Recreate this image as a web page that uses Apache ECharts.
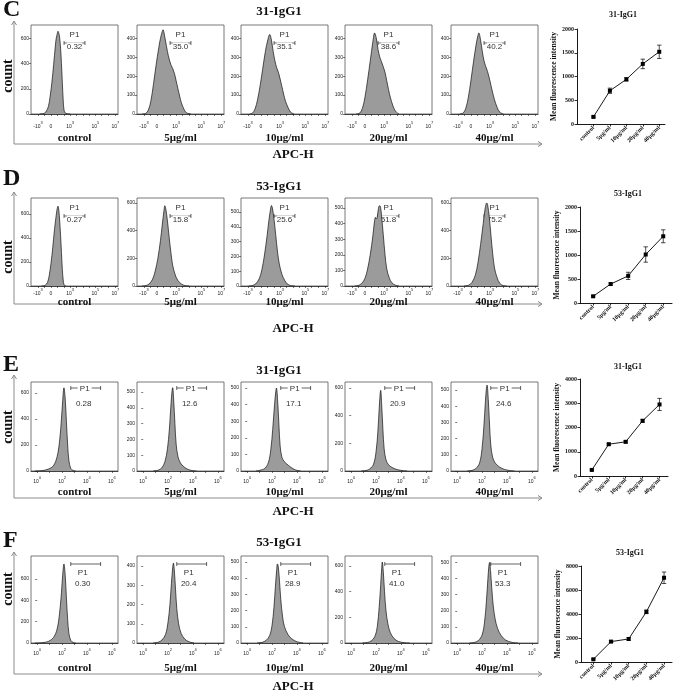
<!DOCTYPE html>
<html><head><meta charset="utf-8">
<script src="https://cdn.jsdelivr.net/npm/echarts@6/dist/echarts.min.js"></script>
<style>html,body{margin:0;padding:0;background:#fff}#c{width:677px;height:693px}</style>
</head><body><div id="c"></div>
<script>
// ---------------- DATA ----------------
const rowLetters = ['C','D','E','F'];
const rowTitles = ['31-IgG1','53-IgG1','31-IgG1','53-IgG1'];
const panelNames = ['control','5μg/ml','10μg/ml','20μg/ml','40μg/ml'];
const lineCategories = ['control','5μg/ml','10μg/ml','20μg/ml','40μg/ml'];

// P1 gate percentages
const p1C = ['0.32','35.0','35.1','38.6','40.2'];
const p1D = ['0.27','15.8','25.6','51.8','75.2'];
const p1E = ['0.28','12.6','17.1','20.9','24.6'];
const p1F = ['0.30','20.4','28.9','41.0','53.3'];

// x tick labels: rows C/D biexponential display scale (0-100 display units), rows E/F log10 scale
const biexTickPos = [8, 23, 45, 74, 97];
const biexTickBase = ['-10','0','10','10','10'];
const biexTickExp = ['3','','3','5','7'];
const biexMinorTicks = [8, 15, 23, 30, 38, 45, 52, 60, 67, 74, 81, 89, 97];
const logTickPos = [0, 2, 4, 6];
const logTickBase = ['10','10','10','10'];
const logTickExp = ['0','2','4','6'];
const logMinorTicks = [0, 1, 2, 3, 4, 5, 6];

// gates [start, end] in x units
const gateCD = [38, 62];
const gateEF = [2.7, 5.1];

// histogram y ticks / y max per panel
const yTicksC = [[0,200,400,600],[0,100,200,300,400],[0,100,200,300,400],[0,100,200,300,400],[0,100,200,300,400]];
const yMaxC = [705, 470, 470, 470, 470];
const yTicksD = [[0,200,400,600],[0,200,400,600],[0,100,200,300,400,500],[0,100,200,300,400,500],[0,200,400,600]];
const yMaxD = [733, 636, 595, 564, 636];
const yTicksE = [[0,200,400,600],[0,100,200,300,400,500],[0,100,200,300,400,500],[0,200,400,600],[0,100,200,300,400,500]];
const yMaxE = [685, 563, 536, 643, 549];
const yTicksF = [[0,200,400,600],[0,100,200,300,400],[0,100,200,300,400,500],[0,200,400,600],[0,100,200,300,400,500]];
const yMaxF = [815, 452, 537, 678, 540];

// histograms [x, count]
const histC = [
 [[10,0],[14,3],[17,15],[20,60],[22,140],[24,250],[26,390],[28,540],[29,600],[30,630],[31,655],[32,640],[33,600],[34,520],[35,400],[36,250],[37,110],[38,30],[40,5],[45,0]],
 [[6,0],[10,3],[13,20],[16,70],[19,160],[22,260],[25,350],[27,400],[29,435],[30,445],[31,430],[33,380],[35,330],[37,290],[39,260],[41,240],[43,215],[45,175],[47,135],[49,95],[51,60],[54,25],[57,6],[62,0]],
 [[10,0],[13,4],[16,25],[19,75],[22,150],[25,240],[28,330],[31,395],[33,420],[35,390],[37,330],[39,280],[41,245],[43,220],[45,185],[47,145],[49,105],[51,70],[54,35],[57,10],[61,0]],
 [[13,0],[17,5],[20,30],[23,90],[26,180],[29,280],[32,380],[34,428],[36,400],[38,340],[40,300],[42,275],[44,250],[46,220],[48,175],[50,130],[52,90],[55,45],[58,15],[62,0]],
 [[10,0],[14,5],[17,30],[20,90],[23,180],[26,280],[29,370],[31,415],[32,428],[34,390],[36,330],[38,280],[40,250],[42,225],[44,190],[46,150],[48,110],[50,75],[53,35],[56,10],[60,0]]
];
const histD = [
 [[12,0],[16,5],[19,30],[21,90],[23,190],[25,320],[27,470],[29,590],[30,640],[31,665],[32,630],[33,540],[34,420],[35,280],[36,140],[37,50],[38,10],[40,0]],
 [[6,0],[10,3],[14,15],[18,50],[21,110],[24,200],[27,330],[29,440],[31,545],[32,580],[33,560],[35,470],[37,350],[39,240],[41,150],[44,80],[47,40],[51,15],[55,3],[60,0]],
 [[9,0],[13,3],[17,15],[21,50],[24,110],[27,210],[30,340],[32,440],[34,520],[35,544],[36,530],[38,450],[40,340],[42,230],[44,150],[47,80],[50,40],[53,15],[57,3],[62,0]],
 [[11,0],[15,3],[19,15],[23,50],[26,110],[29,200],[32,320],[34,420],[35,440],[36,430],[37,440],[38,480],[39,510],[40,515],[41,500],[42,450],[44,330],[46,200],[48,110],[51,50],[54,20],[58,5],[62,0]],
 [[15,0],[20,5],[24,25],[28,80],[31,170],[34,300],[37,450],[39,550],[41,600],[42,590],[44,500],[46,360],[48,230],[50,130],[53,60],[56,20],[60,3],[64,0]]
];
const histE = [
 [[-0.2,0],[0.4,3],[0.9,15],[1.3,40],[1.6,110],[1.8,230],[1.95,400],[2.05,540],[2.15,640],[2.25,560],[2.35,380],[2.45,200],[2.55,80],[2.7,20],[2.9,3],[3.1,0]],
 [[0.8,0],[1.2,5],[1.5,20],[1.75,60],[1.95,140],[2.1,260],[2.2,380],[2.3,490],[2.37,527],[2.45,450],[2.55,300],[2.65,170],[2.8,90],[3.0,50],[3.3,25],[3.6,10],[4.0,2],[4.3,0]],
 [[0.7,0],[1.0,4],[1.4,15],[1.7,50],[1.9,130],[2.05,250],[2.2,400],[2.3,480],[2.35,500],[2.45,420],[2.55,280],[2.65,150],[2.8,80],[3.0,55],[3.3,35],[3.6,18],[3.9,6],[4.3,0]],
 [[0.8,0],[1.2,4],[1.5,15],[1.8,50],[2.0,140],[2.15,290],[2.25,450],[2.33,560],[2.37,583],[2.45,480],[2.55,300],[2.65,160],[2.8,80],[3.0,45],[3.3,25],[3.7,10],[4.2,2],[4.5,0]],
 [[0.8,0],[1.2,4],[1.5,15],[1.8,50],[2.0,140],[2.15,280],[2.27,430],[2.35,510],[2.4,530],[2.5,440],[2.6,290],[2.7,160],[2.85,85],[3.05,50],[3.4,25],[3.8,10],[4.3,2],[4.6,0]]
];
const histF = [
 [[-0.2,0],[0.4,3],[0.9,15],[1.3,50],[1.6,130],[1.8,280],[1.95,470],[2.05,640],[2.15,740],[2.25,640],[2.35,420],[2.45,220],[2.55,90],[2.7,25],[2.9,4],[3.1,0]],
 [[0.8,0],[1.2,4],[1.5,15],[1.8,45],[2.0,110],[2.15,200],[2.27,310],[2.37,390],[2.43,415],[2.5,380],[2.6,280],[2.7,180],[2.85,100],[3.05,50],[3.35,20],[3.7,6],[4.1,0]],
 [[0.8,0],[1.2,4],[1.5,15],[1.8,45],[2.0,110],[2.15,220],[2.27,350],[2.37,450],[2.43,488],[2.5,470],[2.6,380],[2.7,270],[2.85,160],[3.0,100],[3.3,50],[3.6,25],[4.0,8],[4.5,0]],
 [[0.9,0],[1.3,4],[1.6,15],[1.9,50],[2.1,130],[2.25,280],[2.37,450],[2.45,580],[2.5,631],[2.58,560],[2.68,400],[2.8,250],[2.95,150],[3.15,80],[3.45,35],[3.8,12],[4.3,2],[4.7,0]],
 [[1.0,0],[1.4,4],[1.7,15],[2.0,50],[2.2,130],[2.35,260],[2.47,400],[2.55,480],[2.6,500],[2.68,450],[2.78,340],[2.9,230],[3.05,150],[3.25,90],[3.55,45],[3.9,18],[4.4,4],[4.9,0]]
];

// Mean fluorescence intensity (mean, error)
const mfiC = [150, 700, 940, 1265, 1520];
const errC = [20, 55, 35, 100, 140];
const mfiD = [140, 395, 565, 1010, 1390];
const errD = [15, 25, 75, 160, 135];
const mfiE = [250, 1310, 1410, 2275, 2950];
const errE = [30, 40, 45, 60, 250];
const mfiF = [225, 1700, 1920, 4180, 7020];
const errF = [60, 80, 120, 150, 480];
const yMaxLine = [2000, 2000, 4000, 8000];
const yIntLine = [500, 500, 1000, 2000];

// ---------------- LAYOUT ----------------
const SERIF = '"Liberation Serif","Times New Roman",serif';
const SANS = '"Liberation Sans",Arial,sans-serif';
const bxLeft = [31, 137, 241, 345, 451], bxW = 87;
const rows = [
 {top:25, base:114, labMargin:7, nameGap:19, gate:'cd', lTop:21, lBot:144, letterY:10, titleY:12, apcY:155, countY:76,
  line:{left:577,width:88,top:29,bottom:124,min:-1,max:4.35,titleY:15,titleX:623}},
 {top:198, base:286, labMargin:2, nameGap:10, gate:'cd', lTop:192, lBot:304, letterY:179, titleY:187, apcY:329, countY:257,
  line:{left:580,width:92,top:207,bottom:303,min:-0.75,max:4.5,titleY:194,titleX:628}},
 {top:382, base:471, labMargin:5, nameGap:16, gate:'e', lTop:375, lBot:498, letterY:365, titleY:371, apcY:512, countY:427,
  line:{left:580,width:88,top:379,bottom:476,min:-0.7,max:4.5,titleY:367,titleX:628}},
 {top:556, base:643, labMargin:5, nameGap:20, gate:'f', lTop:552, lBot:674, letterY:541, titleY:543, apcY:687, countY:589,
  line:{left:581,width:91,top:566,bottom:662,min:-0.7,max:4.45,titleY:553,titleX:630}}
];
const rowHist = [histC, histD, histE, histF];
const rowP1 = [p1C, p1D, p1E, p1F];
const rowYT = [yTicksC, yTicksD, yTicksE, yTicksF];
const rowYM = [yMaxC, yMaxD, yMaxE, yMaxF];
const rowMfi = [mfiC, mfiD, mfiE, mfiF];
const rowErr = [errC, errD, errE, errF];

function makeGate(style, valText){
  return function(params, api){
    const cs = params.coordSys;
    const x1 = api.coord([api.value(0), 0])[0];
    const x2 = api.coord([api.value(1), 0])[0];
    const mid = (x1 + x2) / 2;
    const st = {stroke:'#222', lineWidth:0.7};
    const font = '8px ' + SANS;
    const txt = (t, x, y, bg) => ({type:'text', x:x, y:y, style:{text:t, font:font, fill:'#333', backgroundColor:bg||null, textAlign:'center', textVerticalAlign:'middle', align:'center', verticalAlign:'middle'}});
    const ch = [];
    if (style === 'cd') {
      const ly = cs.y + 18;
      ch.push({type:'line', shape:{x1:x1, y1:ly, x2:x2, y2:ly}, style:st});
      ch.push({type:'line', shape:{x1:x1, y1:ly-2, x2:x1, y2:ly+2}, style:st});
      ch.push({type:'line', shape:{x1:x2, y1:ly-2, x2:x2, y2:ly+2}, style:st});
      ch.push(txt('P1', mid, cs.y + 10));
      ch.push(txt(valText, mid, ly + 3.5, '#fff'));
    } else if (style === 'e') {
      const ly = cs.y + 6;
      ch.push({type:'line', shape:{x1:x1, y1:ly, x2:mid-8, y2:ly}, style:st});
      ch.push({type:'line', shape:{x1:mid+6, y1:ly, x2:x2, y2:ly}, style:st});
      ch.push({type:'line', shape:{x1:x1, y1:ly-2, x2:x1, y2:ly+2}, style:st});
      ch.push({type:'line', shape:{x1:x2, y1:ly-2, x2:x2, y2:ly+2}, style:st});
      ch.push(txt('P1', mid - 1, ly + 1));
      ch.push(txt(valText, mid - 2, cs.y + 22));
    } else {
      const ly = cs.y + 8;
      ch.push({type:'line', shape:{x1:x1, y1:ly, x2:x2, y2:ly}, style:st});
      ch.push({type:'line', shape:{x1:x1, y1:ly-2, x2:x1, y2:ly+2}, style:st});
      ch.push({type:'line', shape:{x1:x2, y1:ly-2, x2:x2, y2:ly+2}, style:st});
      ch.push(txt('P1', mid - 3, cs.y + 17));
      ch.push(txt(valText, mid - 3, cs.y + 28));
    }
    return {type:'group', children:ch};
  };
}

function errRender(params, api){
  const x = api.value(0), m = api.value(1), e = api.value(2);
  const t = api.coord([x, m + e]), b = api.coord([x, m - e]);
  const w = 2.2, st = {stroke:'#000', lineWidth:0.7};
  return {type:'group', children:[
    {type:'line', shape:{x1:t[0], y1:t[1], x2:b[0], y2:b[1]}, style:st},
    {type:'line', shape:{x1:t[0]-w, y1:t[1], x2:t[0]+w, y2:t[1]}, style:st},
    {type:'line', shape:{x1:b[0]-w, y1:b[1], x2:b[0]+w, y2:b[1]}, style:st}
  ]};
}

const grid = [], xAxis = [], yAxis = [], series = [], graphic = [];
let gi = 0;
rows.forEach((r, ri) => {
  const isBiex = (r.gate === 'cd');
  const tPos = isBiex ? biexTickPos : logTickPos;
  const tBase = isBiex ? biexTickBase : logTickBase;
  const tExp = isBiex ? biexTickExp : logTickExp;
  const tMinor = isBiex ? biexMinorTicks : logMinorTicks;
  const gate = isBiex ? gateCD : gateEF;
  for (let p = 0; p < 5; p++) {
    grid.push({left:bxLeft[p], top:r.top, width:bxW, height:r.base - r.top, show:true, borderColor:'#555', borderWidth:0.8, backgroundColor:'transparent'});
    xAxis.push({gridIndex:gi, type:'value', min:isBiex?0:-0.5, max:isBiex?100:6.5,
      name:panelNames[p], nameLocation:'middle', nameGap:r.nameGap,
      nameTextStyle:{fontFamily:SERIF, fontWeight:'bold', fontSize:11, color:'#111'},
      axisLine:{show:true, onZero:false, lineStyle:{color:'#222', width:0.8}},
      axisTick:{show:true, customValues:tMinor, length:2, lineStyle:{color:'#222', width:0.6}},
      splitLine:{show:false},
      axisLabel:{customValues:tPos, margin:r.labMargin, fontFamily:SANS, color:'#222',
        formatter:(v)=>{const k = tPos.indexOf(v); if (k < 0) return ''; return tExp[k] ? '{b|' + tBase[k] + '}{s|' + tExp[k] + '}' : '{b|' + tBase[k] + '}';},
        rich:{b:{fontSize:5, fontFamily:SANS, color:'#222', lineHeight:8, verticalAlign:'bottom'},
              s:{fontSize:4, fontFamily:SANS, color:'#222', lineHeight:8, verticalAlign:'top'}}}
    });
    const yt = rowYT[ri][p];
    yAxis.push({gridIndex:gi, type:'value', min:0, max:rowYM[ri][p],
      axisLine:{show:false}, splitLine:{show:false},
      axisTick:{show:true, customValues:yt, length:2, lineStyle:{color:'#222', width:0.6}},
      axisLabel:{customValues:yt, margin:2, fontSize:5, fontFamily:SANS, color:'#222', formatter:(v)=>String(v)}
    });
    series.push({type:'line', xAxisIndex:gi, yAxisIndex:gi, data:rowHist[ri][p], smooth:0.35, symbol:'none',
      lineStyle:{color:'#111', width:0.7}, areaStyle:{color:'#9b9b9b', opacity:1}, silent:true});
    series.push({type:'custom', xAxisIndex:gi, yAxisIndex:gi, data:[[gate[0], gate[1]]], encode:{x:[0,1]},
      renderItem:makeGate(r.gate, rowP1[ri][p]), silent:true, clip:false});
    gi++;
  }
  // line chart
  const L = r.line;
  grid.push({left:L.left, top:L.top, width:L.width, height:L.bottom - L.top, show:false});
  xAxis.push({gridIndex:gi, type:'value', min:L.min, max:L.max,
    axisLine:{show:true, onZero:false, lineStyle:{color:'#000', width:0.9}},
    axisTick:{show:true, customValues:[0,1,2,3,4], length:2.5, lineStyle:{color:'#000', width:0.8}},
    splitLine:{show:false},
    axisLabel:{customValues:[0,1,2,3,4], rotate:45, margin:3, fontSize:6, fontFamily:SERIF, fontWeight:'bold', color:'#111',
      formatter:(v)=>lineCategories[Math.round(v)]}
  });
  yAxis.push({gridIndex:gi, type:'value', min:0, max:yMaxLine[ri], interval:yIntLine[ri],
    name:'Mean fluorescence intensity', nameLocation:'middle', nameGap:19, nameRotate:90,
    nameTextStyle:{fontFamily:SERIF, fontWeight:'bold', fontSize:7.5, color:'#111'},
    axisLine:{show:true, onZero:false, lineStyle:{color:'#000', width:0.9}},
    axisTick:{show:true, length:2.5, lineStyle:{color:'#000', width:0.8}},
    splitLine:{show:false},
    axisLabel:{margin:3, fontSize:6, fontFamily:SERIF, fontWeight:'bold', color:'#111', formatter:(v)=>String(v)}
  });
  series.push({type:'line', xAxisIndex:gi, yAxisIndex:gi, data:rowMfi[ri].map((m,i)=>[i,m]),
    symbol:'rect', symbolSize:4, itemStyle:{color:'#000'}, lineStyle:{color:'#000', width:0.9}, silent:true});
  series.push({type:'custom', xAxisIndex:gi, yAxisIndex:gi, data:rowMfi[ri].map((m,i)=>[i,m,rowErr[ri][i]]),
    encode:{x:0, y:1}, renderItem:errRender, silent:true, clip:false});
  gi++;

  // decorations
  const gray = '#8c8c8c';
  graphic.push({type:'text', x:3, y:r.letterY, style:{text:rowLetters[ri], font:'bold 24px ' + SERIF, fill:'#111', textAlign:'left', textVerticalAlign:'middle', align:'left', verticalAlign:'middle'}});
  graphic.push({type:'text', x:279, y:r.titleY, style:{text:rowTitles[ri], font:'bold 13px ' + SERIF, fill:'#111', textAlign:'center', textVerticalAlign:'middle', align:'center', verticalAlign:'middle'}});
  graphic.push({type:'text', x:293, y:r.apcY, style:{text:'APC-H', font:'bold 13px ' + SERIF, fill:'#111', textAlign:'center', textVerticalAlign:'middle', align:'center', verticalAlign:'middle'}});
  graphic.push({type:'text', x:8, y:r.countY, rotation:Math.PI/2, style:{text:'count', font:'bold 14px ' + SERIF, fill:'#111', textAlign:'center', textVerticalAlign:'middle', align:'center', verticalAlign:'middle'}});
  graphic.push({type:'polyline', shape:{points:[[14, r.lBot],[14, r.lTop]]}, style:{stroke:gray, lineWidth:1, fill:null}});
  graphic.push({type:'polyline', shape:{points:[[11.5, r.lTop+4],[14, r.lTop],[16.5, r.lTop+4]]}, style:{stroke:gray, lineWidth:1, fill:null}});
  graphic.push({type:'polyline', shape:{points:[[14, r.lBot],[542, r.lBot]]}, style:{stroke:gray, lineWidth:1, fill:null}});
  graphic.push({type:'polyline', shape:{points:[[538, r.lBot-2.5],[542, r.lBot],[538, r.lBot+2.5]]}, style:{stroke:gray, lineWidth:1, fill:null}});
  graphic.push({type:'text', x:L.titleX, y:L.titleY, style:{text:rowTitles[ri], font:'bold 8px ' + SERIF, fill:'#111', textAlign:'center', textVerticalAlign:'middle', align:'center', verticalAlign:'middle'}});
});

const chart = echarts.init(document.getElementById('c'), null, {renderer:'canvas'});
chart.setOption({animation:false, backgroundColor:'#fff', grid, xAxis, yAxis, series, graphic});
</script>
</body></html>
